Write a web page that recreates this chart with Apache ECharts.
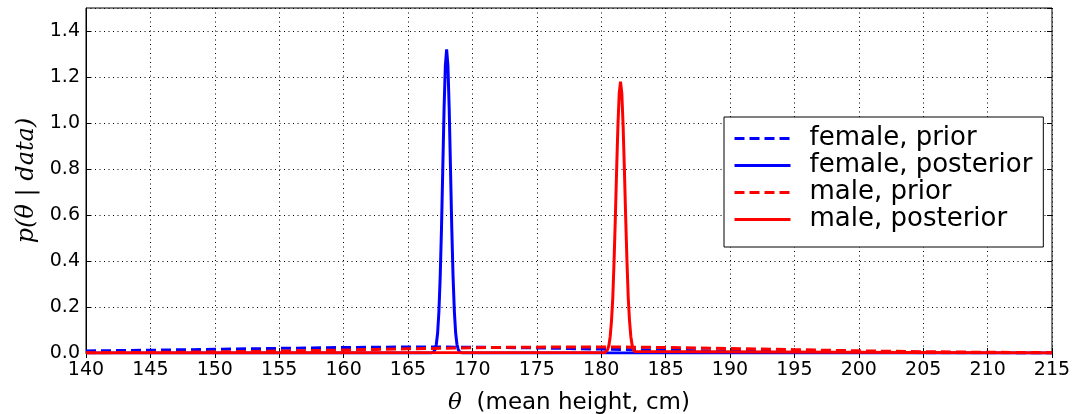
<!DOCTYPE html>
<html><head><meta charset="utf-8">
<script src="https://cdn.jsdelivr.net/npm/echarts@6/dist/echarts.min.js"></script>
<style>html,body{margin:0;padding:0;background:#fff}#c{width:1073px;height:414px}</style>
</head><body><div id="c"></div>
<script>
// Data
const priorX = [140,142.5,145,147.5,150,152.5,155,157.5,160,162.5,165,167.5,170,172.5,175,177.5,180,182.5,185,187.5,190,192.5,195,197.5,200,202.5,205,207.5,210,212.5,215];
const femalePrior = [0.009,0.0105,0.012,0.014,0.016,0.018,0.020,0.022,0.024,0.025,0.026,0.026,0.025,0.024,0.022,0.0195,0.017,0.0145,0.012,0.010,0.008,0.0065,0.005,0.004,0.003,0.0022,0.0015,0.001,0.0007,0.0005,0.0003];
const malePrior = [0.0012,0.0018,0.0026,0.0036,0.005,0.0065,0.0085,0.0105,0.013,0.0155,0.018,0.0205,0.023,0.0245,0.0255,0.026,0.026,0.0255,0.024,0.022,0.0195,0.017,0.0145,0.012,0.0095,0.0075,0.0058,0.0043,0.0031,0.0022,0.0015];
const femalePostX = [140,166.8,166.9,167.0,167.1,167.2,167.3,167.4,167.5,167.6,167.7,167.8,167.9,168.0,168.1,168.2,168.3,168.4,168.5,168.6,168.7,168.8,168.9,169.0,169.1,169.2,215];
const femalePost = [0,0,0.002,0.005,0.015,0.038,0.087,0.18,0.33,0.54,0.80,1.06,1.25,1.32,1.25,1.06,0.80,0.54,0.33,0.18,0.087,0.038,0.015,0.005,0.002,0,0];
const malePostX = [140,180.3,180.4,180.5,180.6,180.7,180.8,180.9,181.0,181.1,181.2,181.3,181.4,181.5,181.6,181.7,181.8,181.9,182.0,182.1,182.2,182.3,182.4,182.5,182.6,182.7,215];
const malePost = [0,0.002,0.006,0.015,0.034,0.072,0.14,0.24,0.40,0.59,0.80,0.99,1.13,1.18,1.13,0.99,0.80,0.59,0.40,0.24,0.14,0.072,0.034,0.015,0.006,0.002,0];
const seriesNames = ['female, prior','female, posterior','male, prior','male, posterior'];

const pairs = (xs, ys) => xs.map((x, i) => [x, ys[i]]);
const chart = echarts.init(document.getElementById('c'));
const BLUE = '#0000ff', RED = '#ff0000';
const tickFont = {color:'#000', fontSize:19, fontFamily:'DejaVu Sans'};
const mk = (name, data, color, dashed) => ({
  name, type:'line', data, symbol:'none', showSymbol:false, animation:false,
  lineStyle:{color, width:3, type: dashed ? [10,5] : 'solid'}, itemStyle:{color}
});
chart.setOption({
  animation:false,
  grid:{left:86, right:21, top:8, bottom:61, show:true, borderColor:'#000', borderWidth:1,
    containLabel:false, outerBoundsMode:'none'},
  legend:{
    data:seriesNames, orient:'vertical', left:724, top:117,
    backgroundColor:'#fff', borderColor:'#000', borderWidth:1, borderRadius:0,
    padding:[8,11,14,9], itemGap:0, itemWidth:56, itemHeight:20,
    itemStyle:{color:'transparent', borderWidth:0, opacity:0},
    lineStyle:{width:3},
    textStyle:{fontFamily:'DejaVu Sans', fontSize:26, lineHeight:27, color:'#000', padding:[0,0,0,14]}
  },
  xAxis:[{
    type:'value', min:140, max:215, interval:5,
    name:'{t|θ}  (mean height, cm)', nameLocation:'middle', nameGap:39,
    nameTextStyle:{fontFamily:'DejaVu Sans', fontSize:23, color:'#000',
      rich:{t:{fontFamily:'DejaVu Serif', fontStyle:'italic', fontSize:23, color:'#000'}}},
    axisLine:{lineStyle:{color:'#000', width:1}},
    axisTick:{inside:true, length:5, lineStyle:{color:'#000'}},
    axisLabel:Object.assign({margin:8}, tickFont),
    splitLine:{show:true, lineStyle:{color:'#000', type:[1,3.5], width:1}}
  },{
    type:'value', position:'top', min:140, max:215, interval:5,
    axisLine:{show:false}, axisTick:{inside:true, length:5, lineStyle:{color:'#000'}},
    axisLabel:{show:false}, splitLine:{show:false}
  }],
  yAxis:[{
    type:'value', min:0, max:1.5, interval:0.2,
    name:'p(θ | data)', nameLocation:'middle', nameGap:46,
    nameTextStyle:{fontFamily:'DejaVu Serif', fontStyle:'italic', fontSize:24, color:'#000'},
    axisLine:{show:true, lineStyle:{color:'#000', width:1}},
    axisTick:{show:true, inside:true, length:5, lineStyle:{color:'#000'}},
    axisLabel:Object.assign({margin:6, showMaxLabel:false, formatter:v => v.toFixed(1)}, tickFont),
    splitLine:{show:true, lineStyle:{color:'#000', type:[1,3.5], width:1}}
  },{
    type:'value', position:'right', min:0, max:1.5, interval:0.2,
    axisLine:{show:false}, axisTick:{show:true, inside:true, length:5, lineStyle:{color:'#000'}},
    axisLabel:{show:false}, splitLine:{show:false}
  }],
  series:[
    mk(seriesNames[0], pairs(priorX, femalePrior), BLUE, true),
    mk(seriesNames[1], pairs(femalePostX, femalePost), BLUE, false),
    mk(seriesNames[2], pairs(priorX, malePrior), RED, true),
    mk(seriesNames[3], pairs(malePostX, malePost), RED, false)
  ]
});
</script></body></html>
